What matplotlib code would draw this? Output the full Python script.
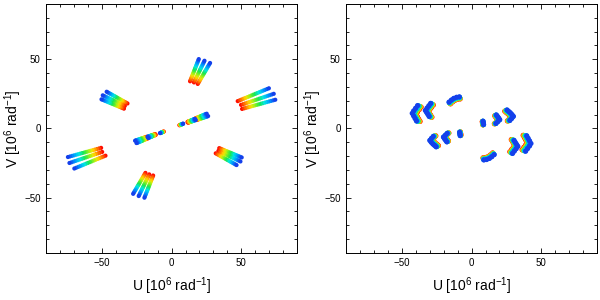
import matplotlib.pyplot as plt
import numpy as np
from matplotlib.colors import LinearSegmentedColormap
from matplotlib.ticker import MultipleLocator

# spectral channels as wavenumbers (1/micron)
k_left = [0.425, 0.438, 0.450, 0.463, 0.475, 0.488, 0.500, 0.513, 0.525,
          0.538, 0.550, 0.563, 0.575, 0.588, 0.600, 0.613, 0.625]
k_right = [0.467, 0.471, 0.476, 0.481, 0.486, 0.490, 0.495, 0.500]

# left panel: uv of each track at the shortest wavelength [10^6 rad^-1]
left_u = [19.5, 23.6, 27.6,      # top group
          69.8, 73.3, 74.4,      # right group
          46.6, 49.4, 50.3,      # lower right group
          8.3, 16.8, 17.3, 25.2, 26.2]   # short baseline
left_v = [50.1, 48.9, 47.3,
          29.0, 25.0, 20.7,
          -26.5, -23.9, -21.0,
          3.4, 6.9, 6.1, 10.6, 8.9]

# right panel: tracks (uv at the shortest wavelength)
a_u = [-38.8, -40.2, -41.6, -42.6, -41.6, -40.6, -39.6]
a_v = [16.5, 14.6, 12.7, 10.9, 9.0, 7.2, 5.4]
b_u = [-29.4, -30.7, -32.0, -33.2, -32.3, -31.4, -30.5]
b_v = [18.1, 16.4, 14.7, 13.0, 11.6, 10.2, 8.7]
c_u = [-16.2, -14.5, -12.8, -10.8, -8.8]
c_v = [19.0, 20.5, 21.7, 22.5, 22.8]
d_u = [-27.5, -28.8, -30.0, -29.0, -27.8, -26.6, -25.5]
d_v = [-5.8, -7.2, -8.7, -10.0, -11.3, -12.3, -13.3]
e_u = [-17.5, -18.8, -20.2, -19.4, -18.6, -17.8]
e_v = [-3.6, -4.9, -6.3, -7.5, -8.6, -9.7]
f_u = [-8.6, -8.4, -8.2]
f_v = [-2.8, -4.0, -5.2]

right_u = a_u + b_u + c_u + d_u + e_u + f_u
right_v = a_v + b_v + c_v + d_v + e_v + f_v

# blue (short wavelength) -> red (long wavelength)
cmap = LinearSegmentedColormap.from_list("rainbow_uv", [
    (0.00, (0.08, 0.25, 0.92)),
    (0.15, (0.00, 0.60, 1.00)),
    (0.30, (0.00, 0.90, 0.90)),
    (0.45, (0.10, 0.90, 0.30)),
    (0.60, (0.60, 0.95, 0.10)),
    (0.72, (1.00, 0.90, 0.00)),
    (0.85, (1.00, 0.50, 0.00)),
    (1.00, (1.00, 0.05, 0.00)),
])


def uv_points(u0, v0, k):
    # scale each point with k / k_max, add the conjugate points
    k = np.array(k)
    u0 = np.array(u0 + [-x for x in u0])
    v0 = np.array(v0 + [-x for x in v0])
    scale = k / k.max()
    u = np.outer(scale, u0).ravel()
    v = np.outer(scale, v0).ravel()
    kk = np.repeat(k, len(u0))
    order = np.argsort(kk, kind="stable")   # red first, blue on top
    return u[order], v[order], kk[order]


def style_axes(ax):
    ax.set_xlim(-90, 90)
    ax.set_ylim(-90, 90)
    ax.xaxis.set_major_locator(MultipleLocator(50))
    ax.yaxis.set_major_locator(MultipleLocator(50))
    ax.xaxis.set_minor_locator(MultipleLocator(10))
    ax.yaxis.set_minor_locator(MultipleLocator(10))
    ax.tick_params(which="both", direction="in", top=True, right=True,
                   labelsize=7, width=0.6, pad=4)
    ax.tick_params(which="major", length=3.5)
    ax.tick_params(which="minor", length=2)
    for s in ax.spines.values():
        s.set_linewidth(0.7)
    ax.set_xlabel("U [10$^6$ rad$^{-1}$]", fontsize=10, labelpad=5)
    ax.set_ylabel("V [10$^6$ rad$^{-1}$]", fontsize=10, labelpad=0)


plt.rcParams["font.family"] = ["Liberation Sans", "DejaVu Sans"]
plt.rcParams["mathtext.fontset"] = "custom"
plt.rcParams["mathtext.rm"] = "Liberation Sans"
plt.rcParams["mathtext.it"] = "Liberation Sans"

fig = plt.figure(figsize=(6, 3), dpi=100)
ax1 = fig.add_axes([0.077, 0.157, 0.418, 0.83])
ax2 = fig.add_axes([0.577, 0.157, 0.418, 0.83])

for ax, uu, vv, k, size in [(ax1, left_u, left_v, k_left, 9),
                            (ax2, right_u, right_v, k_right, 14)]:
    u, v, kk = uv_points(uu, vv, k)
    frac = (max(k) - kk) / (max(k) - min(k))
    ax.scatter(u, v, s=size, c=cmap(frac), linewidths=0)
    style_axes(ax)

fig.savefig("out.png", dpi=100)
